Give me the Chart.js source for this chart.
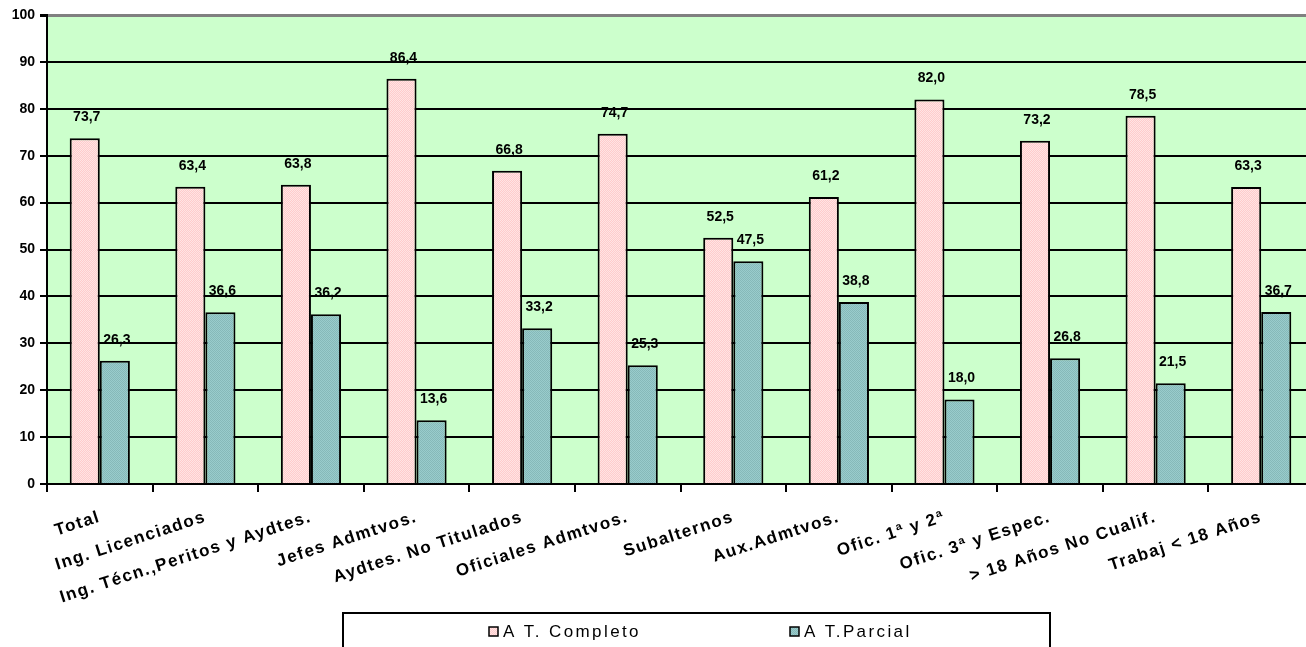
<!DOCTYPE html>
<html>
<head>
<meta charset="utf-8">
<script src="https://cdn.jsdelivr.net/npm/chart.js@4.4.1/dist/chart.umd.min.js"></script>
<style>
  html, body { margin: 0; padding: 0; background: #fff; overflow: hidden; }
  #wrap { width: 1318px; height: 662px; }
</style>
</head>
<body>
<div id="wrap"><canvas id="grafico" width="1318" height="662"></canvas></div>
<script>
const categorias = [
    "Total", "Ing. Licenciados", "Ing. Técn.,Peritos y Aydtes.", "Jefes Admtvos.",
    "Aydtes. No Titulados", "Oficiales Admtvos.", "Subalternos", "Aux.Admtvos.",
    "Ofic. 1ª y 2ª", "Ofic. 3ª y Espec.", "> 18 Años No Cualif.", "Trabaj < 18 Años"
];
const completo = [73.7, 63.4, 63.8, 86.4, 66.8, 74.7, 52.5, 61.2, 82.0, 73.2, 78.5, 63.3];
const parcial = [26.3, 36.6, 36.2, 13.6, 33.2, 25.3, 47.5, 38.8, 18.0, 26.8, 21.5, 36.7];
const nombresSeries = ["A T. Completo", "A T.Parcial"];
const ticksY = [0, 10, 20, 30, 40, 50, 60, 70, 80, 90, 100];

const FUENTE = "'Liberation Sans', Arial, sans-serif";

// relleno punteado como el de la hoja original
function crearTrama(base, punto) {
    const c = document.createElement("canvas");
    c.width = 2;
    c.height = 2;
    const g = c.getContext("2d");
    g.fillStyle = base;
    g.fillRect(0, 0, 2, 2);
    g.fillStyle = punto;
    g.fillRect(0, 0, 1, 1);
    g.fillRect(1, 1, 1, 1);
    return document.getElementById("grafico").getContext("2d").createPattern(c, "repeat");
}

const tramaRosa = crearTrama("#ffcccc", "#ffe4e4");
const tramaVerde = crearTrama("#99cccc", "#86b9b9");

const fondoArea = {
    id: "fondoArea",
    beforeDraw(chart) {
        const { ctx, chartArea: a } = chart;
        ctx.save();
        ctx.fillStyle = "#ccffcc";
        ctx.fillRect(a.left, a.top, a.right - a.left, a.bottom - a.top);
        ctx.restore();
    },
};

// espaciado de letras solo en las etiquetas del eje X
const espaciadoX = {
    id: "espaciadoX",
    afterLayout(chart) {
        const sx = chart.scales.x;
        if (sx._conEspaciado) return;
        const original = sx.drawLabels;
        sx.drawLabels = function (area) {
            const ctx = this.ctx;
            const previo = ctx.letterSpacing;
            ctx.letterSpacing = "1.5px";
            original.call(this, area);
            ctx.letterSpacing = previo || "0px";
        };
        sx._conEspaciado = true;
    },
};

const etiquetasValor = {
    id: "etiquetasValor",
    afterDatasetsDraw(chart) {
        const ctx = chart.ctx;
        ctx.save();
        ctx.font = "bold 14px " + FUENTE;
        ctx.fillStyle = "#000";
        ctx.textAlign = "center";
        ctx.textBaseline = "middle";
        chart.data.datasets.forEach((ds, i) => {
            chart.getDatasetMeta(i).data.forEach((barra, j) => {
                const txt = ds.data[j].toFixed(1).replace(".", ",");
                ctx.fillText(txt, barra.x + 2, barra.y - 21);
            });
        });
        ctx.restore();
    },
};

const leyendaCaja = {
    id: "leyendaCaja",
    afterDraw(chart) {
        const ctx = chart.ctx;
        ctx.save();
        ctx.strokeStyle = "#000";
        ctx.lineWidth = 2;
        ctx.strokeRect(343, 613, 707, 60);
        const posX = [489, 790];
        ctx.font = "17px " + FUENTE;
        ctx.letterSpacing = "2.4px";
        ctx.textBaseline = "middle";
        ctx.textAlign = "left";
        chart.data.datasets.forEach((ds, i) => {
            ctx.fillStyle = ds.backgroundColor;
            ctx.fillRect(posX[i], 627, 9, 9);
            ctx.lineWidth = 1.5;
            ctx.strokeRect(posX[i], 627, 9, 9);
            ctx.fillStyle = "#000";
            ctx.fillText(ds.label, posX[i] + 14, 632);
        });
        ctx.restore();
    },
};

new Chart(document.getElementById("grafico").getContext("2d"), {
    type: "bar",
    data: {
        labels: categorias,
        datasets: [
            { label: nombresSeries[0], data: completo, backgroundColor: tramaRosa, borderColor: "#000", borderWidth: 2 },
            { label: nombresSeries[1], data: parcial, backgroundColor: tramaVerde, borderColor: "#000", borderWidth: 2 },
        ],
    },
    options: {
        responsive: false,
        animation: false,
        events: [],
        categoryPercentage: 0.57,
        barPercentage: 1.0,
        layout: { padding: { top: 15, right: 4, left: 0, bottom: 38 } },
        plugins: { legend: { display: false }, tooltip: { enabled: false } },
        scales: {
            x: {
                afterFit: (s) => { s.height = 140; },
                grid: { drawOnChartArea: false, offset: true, color: "#000", lineWidth: 2, tickLength: 8 },
                border: { color: "#000", width: 2 },
                ticks: {
                    autoSkip: false,
                    minRotation: 18,
                    maxRotation: 18,
                    padding: 15,
                    color: "#000",
                    font: { family: FUENTE, size: 17, weight: "bold" },
                },
            },
            y: {
                min: 0,
                max: 100,
                afterFit: (s) => { s.width = 47; },
                afterBuildTicks: (s) => { s.ticks = ticksY.map((v) => ({ value: v })); },
                grid: {
                    color: (c) => (c.tick && c.tick.value === 100 ? "#808080" : "#000"),
                    lineWidth: (c) => (c.tick && c.tick.value === 100 ? 3 : 2),
                    tickColor: "#000",
                    tickLength: 7,
                },
                border: { color: "#000", width: 2 },
                ticks: {
                    padding: 5,
                    color: "#000",
                    font: { family: FUENTE, size: 14, weight: "bold" },
                },
            },
        },
    },
    plugins: [fondoArea, espaciadoX, etiquetasValor, leyendaCaja],
});
</script>
</body>
</html>
